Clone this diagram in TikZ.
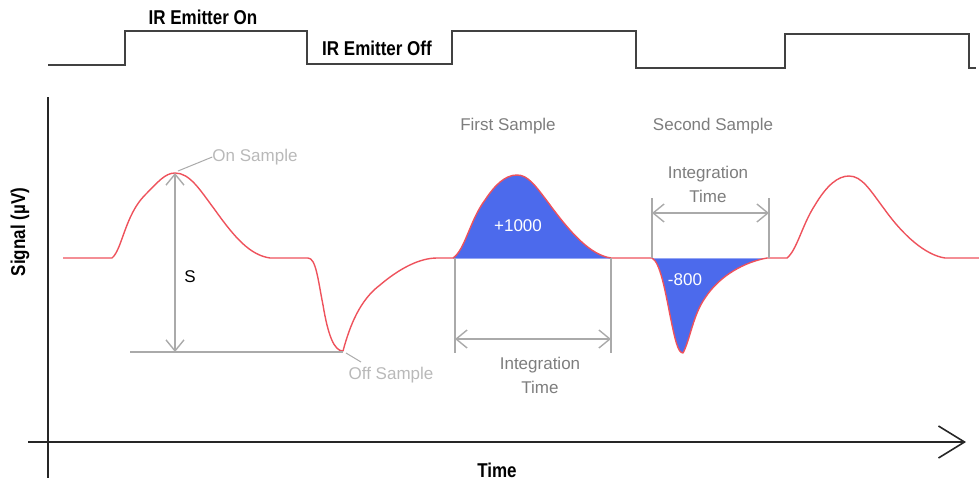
\documentclass[tikz,border=0pt]{standalone}
\usepackage{fontspec}
\setmainfont{Liberation Sans}
\newfontfamily\condbf{Liberation Sans}[FakeStretch=0.85]
\usetikzlibrary{arrows.meta}
\definecolor{sigred}{RGB}{238,82,92}
\definecolor{fillblue}{RGB}{76,106,236}
\definecolor{dimgray}{RGB}{170,170,170}
\definecolor{labgray}{RGB}{125,125,125}
\definecolor{lightlab}{RGB}{185,185,185}
\definecolor{wave}{RGB}{65,65,65}
\newcommand\pulseOne{(453,258) .. controls (465,250) and (470,220) .. (485,200) .. controls (495,185) and (505,175) .. (517,175) .. controls (528,175) and (535,185) .. (550,205) .. controls (570,232) and (590,255) .. (611,258)}
\newcommand\pulseTwo{(652,258) .. controls (660,262) and (665,290) .. (670,315) .. controls (675,340) and (678,353) .. (683,353) .. controls (690,340) and (693,315) .. (705,298) .. controls (720,275) and (745,262) .. (767,258)}
\begin{document}
\begin{tikzpicture}[x=1pt,y=-1pt,
  boldlab/.style={font=\condbf\bfseries\fontsize{20}{22}\selectfont, inner sep=0pt},
  graylab/.style={font=\fontsize{17}{24}\selectfont, text=labgray, inner sep=0pt, align=center},
  lightlabel/.style={font=\fontsize{17}{20}\selectfont, text=lightlab, inner sep=0pt},
  whitelab/.style={font=\fontsize{17}{20}\selectfont, text=white, inner sep=0pt},
  dimline/.style={draw=dimgray, line width=1.4pt},
  dimarrow/.style={dimline, {Straight Barb[length=11pt,width=18pt]}-{Straight Barb[length=11pt,width=18pt]}},
  sig/.style={draw=sigred, line width=1.4pt, line join=round},
  area/.style={fill=fillblue},
  wavestyle/.style={draw=wave, line width=2pt},
  axis/.style={draw=black!85, line width=1.8pt}
]
\useasboundingbox (0,0) rectangle (979,483);

% emitter square wave
\draw[wavestyle] (48,65) -- (125,65) -- (125,31) -- (307,31) -- (307,64) -- (452,64) -- (452,31)
  -- (636,31) -- (636,68) -- (785,68) -- (785,34) -- (969,34) -- (969,68) -- (976,68);
\node[boldlab] (on) at (203,17) {IR Emitter On};
\node[boldlab] (off) at (377,48) {IR Emitter Off};

% axes
\coordinate (ytop) at (48,97);
\coordinate (ybot) at (48,478);
\coordinate (xl) at (28,442);
\coordinate (xr) at (966,442);
\draw[axis] (ytop) -- (ybot);
\draw[axis, -{Straight Barb[length=26pt,width=32pt,line width=1.6pt]}] (xl) -- (xr);
\node[boldlab, rotate=90] (ylab) at (20,232) {Signal (µV)};
\node[boldlab] (xlab) at (497,470) {Time};

% blue areas
\fill[area] \pulseOne -- cycle;
\fill[area] \pulseTwo -- cycle;
\draw[draw=fillblue!60, line width=1pt] (453,258) -- (611,258) (652,258) -- (767,258);

% signal
\draw[sig] (63,258) -- (112,258)
  .. controls (122,250) and (125,215) .. (145,195)
  .. controls (158,182) and (165,173) .. (175,173)
  .. controls (190,173) and (200,190) .. (215,210)
  .. controls (235,238) and (250,255) .. (270,258)
  -- (308,258)
  .. controls (316,258) and (318,280) .. (323,305)
  .. controls (328,335) and (334,351) .. (343,351)
  .. controls (350,325) and (360,300) .. (380,285)
  .. controls (400,268) and (420,258) .. (437,258)
  -- (453,258);
\draw[sig] \pulseOne -- (652,258);
\draw[sig] \pulseTwo -- (787,258)
  .. controls (797,250) and (802,225) .. (815,205)
  .. controls (827,185) and (838,176) .. (849,176)
  .. controls (862,176) and (870,190) .. (885,210)
  .. controls (903,235) and (925,255) .. (945,258)
  -- (979,258);

% S measurement
\coordinate (peak) at (175,173);
\coordinate (sbot) at (175,352);
\coordinate (hl) at (130,352);
\coordinate (trough) at (343,352);
\draw[dimarrow] (peak) -- (sbot);
\draw[dimline] (hl) -- (trough);
\node[font=\fontsize{17}{20}\selectfont, inner sep=0pt] (s) at (190,277) {S};
\node[lightlabel] (onlab) at (255,157) {On Sample};
\node[lightlabel] (offlab) at (391,375) {Off Sample};
\draw[dimline, line width=1pt] (178,171) -- (onlab.west);
\draw[dimline, line width=1pt] (346,353) -- (361,362);

% first sample integration
\coordinate (a1) at (455,258);
\coordinate (a2) at (455,353);
\coordinate (b1) at (611,258);
\coordinate (b2) at (611,353);
\draw[dimline] (a1) -- (a2) (b1) -- (b2);
\draw[dimarrow] (455,339) -- (611,339);
\node[graylab] (fs) at (508,126) {First Sample};
\node[graylab] (it1) at (540,375) {Integration\\Time};
\node[whitelab] (p1000) at (518,226) {+1000};

% second sample integration
\coordinate (c1) at (652,198);
\coordinate (c2) at (652,258);
\coordinate (d1) at (769,198);
\coordinate (d2) at (769,258);
\draw[dimline] (c1) -- (c2) (d1) -- (d2);
\draw[dimarrow] (652,213) -- (769,213);
\node[graylab] (ss) at (713,126) {Second Sample};
\node[graylab] (it2) at (708,184) {Integration\\Time};
\node[whitelab] (m800) at (685,280) {-800};
\end{tikzpicture}
\end{document}
